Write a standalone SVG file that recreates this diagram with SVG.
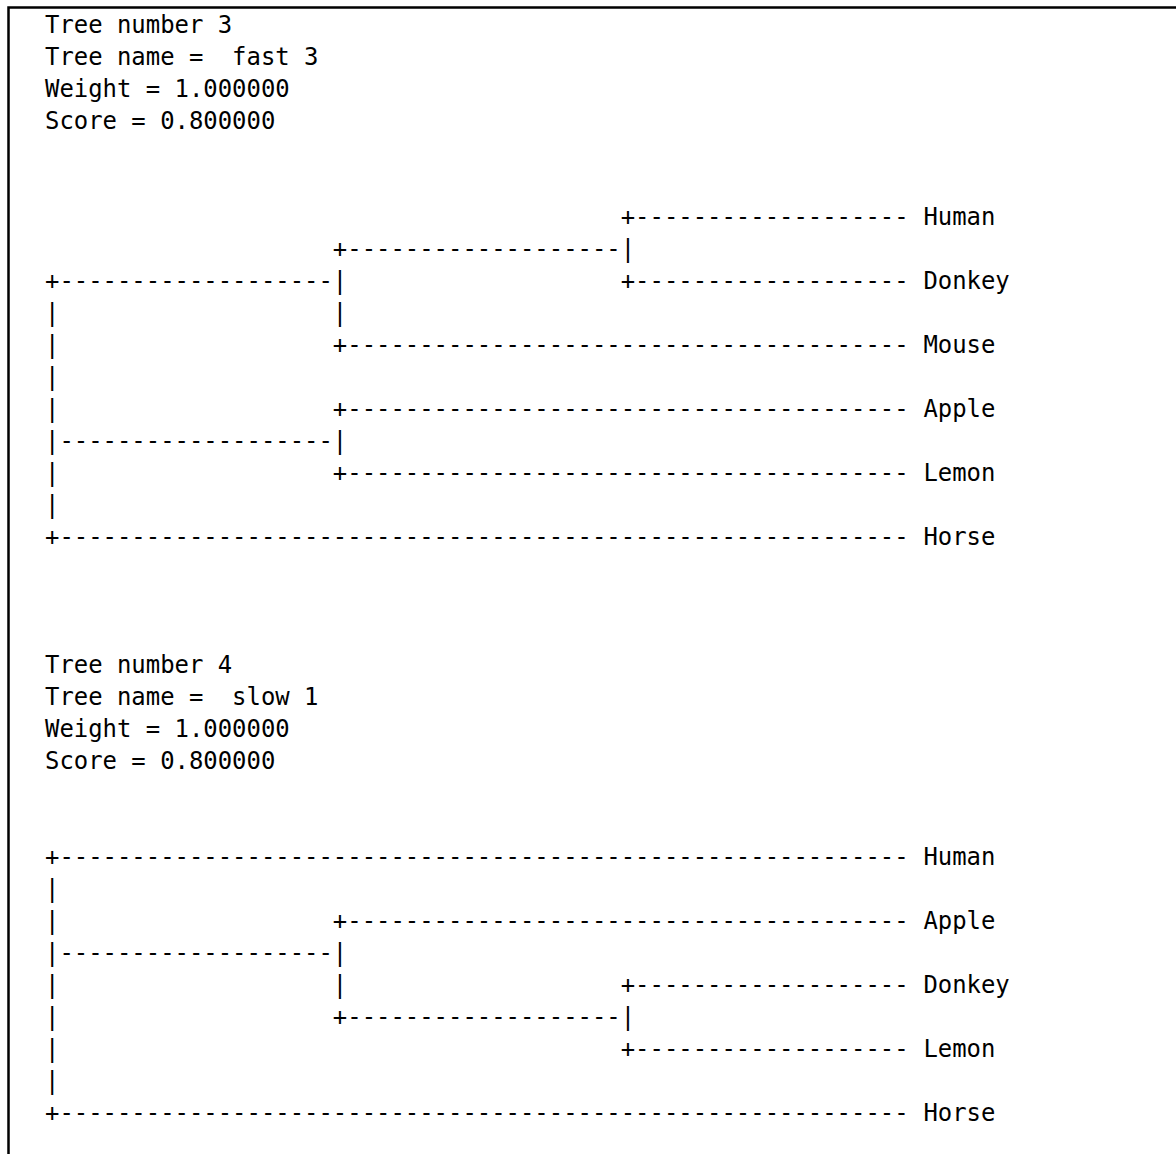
<svg xmlns="http://www.w3.org/2000/svg" width="1176" height="1154" viewBox="0 0 1176 1154">
<style>
text{font-family:"DejaVu Sans Mono","Liberation Mono",monospace;font-size:23.92px;fill:#000;white-space:pre}
.frame{fill:none;stroke:#000;stroke-width:2.5}
</style>
<rect width="1176" height="1154" fill="#fff"/>
<path class="frame" d="M8.5,1154 V7.5 H1176"/>
<g id="tree3" xml:space="preserve">
<g id="tree3-header">
<text x="45" y="33">Tree number 3</text>
<text x="45" y="65">Tree name =  fast 3</text>
<text x="45" y="97">Weight = 1.000000</text>
<text x="45" y="129">Score = 0.800000</text>
</g>
<g id="tree3-connectors">
<text x="45" y="225">                                        +-------------------</text>
<text x="45" y="257">                    +-------------------|</text>
<text x="45" y="289">+-------------------|                   +-------------------</text>
<text x="45" y="321">|                   |</text>
<text x="45" y="353">|                   +---------------------------------------</text>
<text x="45" y="385">|</text>
<text x="45" y="417">|                   +---------------------------------------</text>
<text x="45" y="449">|-------------------|</text>
<text x="45" y="481">|                   +---------------------------------------</text>
<text x="45" y="513">|</text>
<text x="45" y="545">+-----------------------------------------------------------</text>
</g>
<g id="tree3-human"><text x="923.4" y="225">Human</text></g>
<g id="tree3-donkey"><text x="923.4" y="289">Donkey</text></g>
<g id="tree3-mouse"><text x="923.4" y="353">Mouse</text></g>
<g id="tree3-apple"><text x="923.4" y="417">Apple</text></g>
<g id="tree3-lemon"><text x="923.4" y="481">Lemon</text></g>
<g id="tree3-horse"><text x="923.4" y="545">Horse</text></g>
</g>
<g id="tree4" xml:space="preserve">
<g id="tree4-header">
<text x="45" y="673">Tree number 4</text>
<text x="45" y="705">Tree name =  slow 1</text>
<text x="45" y="737">Weight = 1.000000</text>
<text x="45" y="769">Score = 0.800000</text>
</g>
<g id="tree4-connectors">
<text x="45" y="865">+-----------------------------------------------------------</text>
<text x="45" y="897">|</text>
<text x="45" y="929">|                   +---------------------------------------</text>
<text x="45" y="961">|-------------------|</text>
<text x="45" y="993">|                   |                   +-------------------</text>
<text x="45" y="1025">|                   +-------------------|</text>
<text x="45" y="1057">|                                       +-------------------</text>
<text x="45" y="1089">|</text>
<text x="45" y="1121">+-----------------------------------------------------------</text>
</g>
<g id="tree4-human"><text x="923.4" y="865">Human</text></g>
<g id="tree4-apple"><text x="923.4" y="929">Apple</text></g>
<g id="tree4-donkey"><text x="923.4" y="993">Donkey</text></g>
<g id="tree4-lemon"><text x="923.4" y="1057">Lemon</text></g>
<g id="tree4-horse"><text x="923.4" y="1121">Horse</text></g>
</g>
</svg>
